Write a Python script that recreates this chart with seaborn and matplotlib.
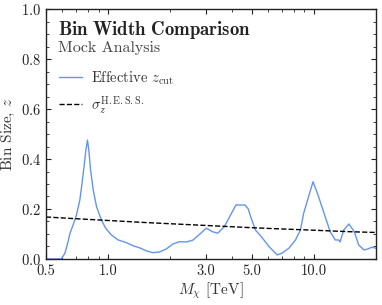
import numpy as np
import pandas as pd
import matplotlib
matplotlib.use('Agg')
import matplotlib.pyplot as plt
import seaborn as sns
from matplotlib.ticker import FixedLocator, FixedFormatter, LogLocator, MultipleLocator, NullFormatter

# effective z_cut curve
mass_cut = [0.50, 0.59, 0.595, 0.618, 0.637, 0.654, 0.677, 0.703, 0.73, 0.748, 0.765,
            0.781, 0.795, 0.807, 0.823, 0.848, 0.88, 0.929, 0.974, 1.039, 1.12, 1.23,
            1.33, 1.42, 1.53, 1.65, 1.78, 1.92, 2.07, 2.22, 2.40, 2.58, 2.78, 3.0,
            3.22, 3.41, 3.67, 3.94, 4.18, 4.63, 4.80, 4.93, 5.2, 5.63, 6.06, 6.64,
            6.99, 7.56, 8.14, 8.6, 8.92, 9.47, 9.9, 10.4, 11.2, 12.0, 12.7, 13.2,
            13.4, 13.96, 14.8, 15.7, 16.5, 17.5, 18.3, 19.1, 20.0]
z_cut = [0.0, 0.0, 0.002, 0.023, 0.063, 0.103, 0.136, 0.176, 0.236, 0.303, 0.369,
         0.436, 0.476, 0.436, 0.356, 0.276, 0.209, 0.156, 0.123, 0.096, 0.076, 0.065,
         0.052, 0.045, 0.033, 0.025, 0.028, 0.040, 0.060, 0.069, 0.068, 0.075, 0.098, 0.123,
         0.109, 0.103, 0.129, 0.176, 0.216, 0.216, 0.200, 0.169, 0.116, 0.083, 0.049, 0.016,
         0.023, 0.043, 0.076, 0.116, 0.183, 0.256, 0.309, 0.263, 0.183, 0.109, 0.076, 0.076,
         0.068, 0.116, 0.140, 0.109, 0.056, 0.036, 0.040, 0.047, 0.043]

# H.E.S.S. energy resolution
mass_hess = [0.5, 0.7, 1.0, 1.5, 2.0, 3.0, 5.0, 7.0, 10.0, 15.0, 20.0]
sigma_hess = [0.168, 0.161, 0.154, 0.146, 0.141, 0.134, 0.125, 0.120, 0.115, 0.109, 0.106]

xticks = [0.5, 1.0, 3.0, 5.0, 10.0]
xtick_labels = ['0.5', '1.0', '3.0', '5.0', '10.0']

sns.set_style('ticks')
plt.rcParams['font.family'] = ['cmr10']
plt.rcParams['mathtext.fontset'] = 'cm'
plt.rcParams['axes.formatter.use_mathtext'] = True
plt.rcParams['axes.unicode_minus'] = False

df_cut = pd.DataFrame({'mass': mass_cut, 'z': z_cut})
df_hess = pd.DataFrame({'mass': mass_hess, 'z': sigma_hess})

fig = plt.figure(figsize=(3.82, 3.05), dpi=100)
ax = fig.add_axes([0.1204, 0.151, 0.8636, 0.819])

sns.lineplot(data=df_cut, x='mass', y='z', ax=ax, color='cornflowerblue', lw=1.0,
             label=r'Effective $z_{\rm cut}$')
sns.lineplot(data=df_hess, x='mass', y='z', ax=ax, color='black', lw=1.0, ls='--',
             label=r'$\sigma_z^{\rm H.E.S.S.}$')

ax.set_xscale('log')
ax.set_xlim(0.5, 20)
ax.set_ylim(0, 1.0)
ax.xaxis.set_major_locator(FixedLocator(xticks))
ax.xaxis.set_major_formatter(FixedFormatter(xtick_labels))
ax.xaxis.set_minor_locator(LogLocator(base=10, subs=np.arange(1, 10)))
ax.xaxis.set_minor_formatter(NullFormatter())
ax.yaxis.set_major_locator(MultipleLocator(0.2))
ax.yaxis.set_minor_locator(MultipleLocator(0.05))
ax.tick_params(which='both', direction='in', top=True, right=True, labelsize=10.5, colors='#222222')
ax.tick_params(which='major', length=3.5, width=0.8)
ax.tick_params(which='minor', length=2, width=0.6)
for s in ax.spines.values():
    s.set_linewidth(1.0)
    s.set_color('#222222')

ax.set_xlabel(r'$M_\chi$ [TeV]', fontsize=11, labelpad=2, color='#333333')
ax.set_ylabel(r'Bin Size, $z$', fontsize=11, labelpad=3, color='#333333')

ax.text(0.036, 0.962, r'$\mathbf{Bin\ Width\ Comparison}$', transform=ax.transAxes,
        fontsize=13.5, va='top', ha='left', color='#222222')
ax.text(0.036, 0.874, 'Mock Analysis', transform=ax.transAxes,
        fontsize=11.5, va='top', ha='left', color='#444444')

leg = ax.legend(loc='upper left', bbox_to_anchor=(0.0, 0.812), frameon=False,
                fontsize=10.5, handlelength=1.6, handletextpad=0.6, labelspacing=0.5)
for t in leg.get_texts():
    t.set_color('#333333')

fig.savefig('out.png', dpi=100)
